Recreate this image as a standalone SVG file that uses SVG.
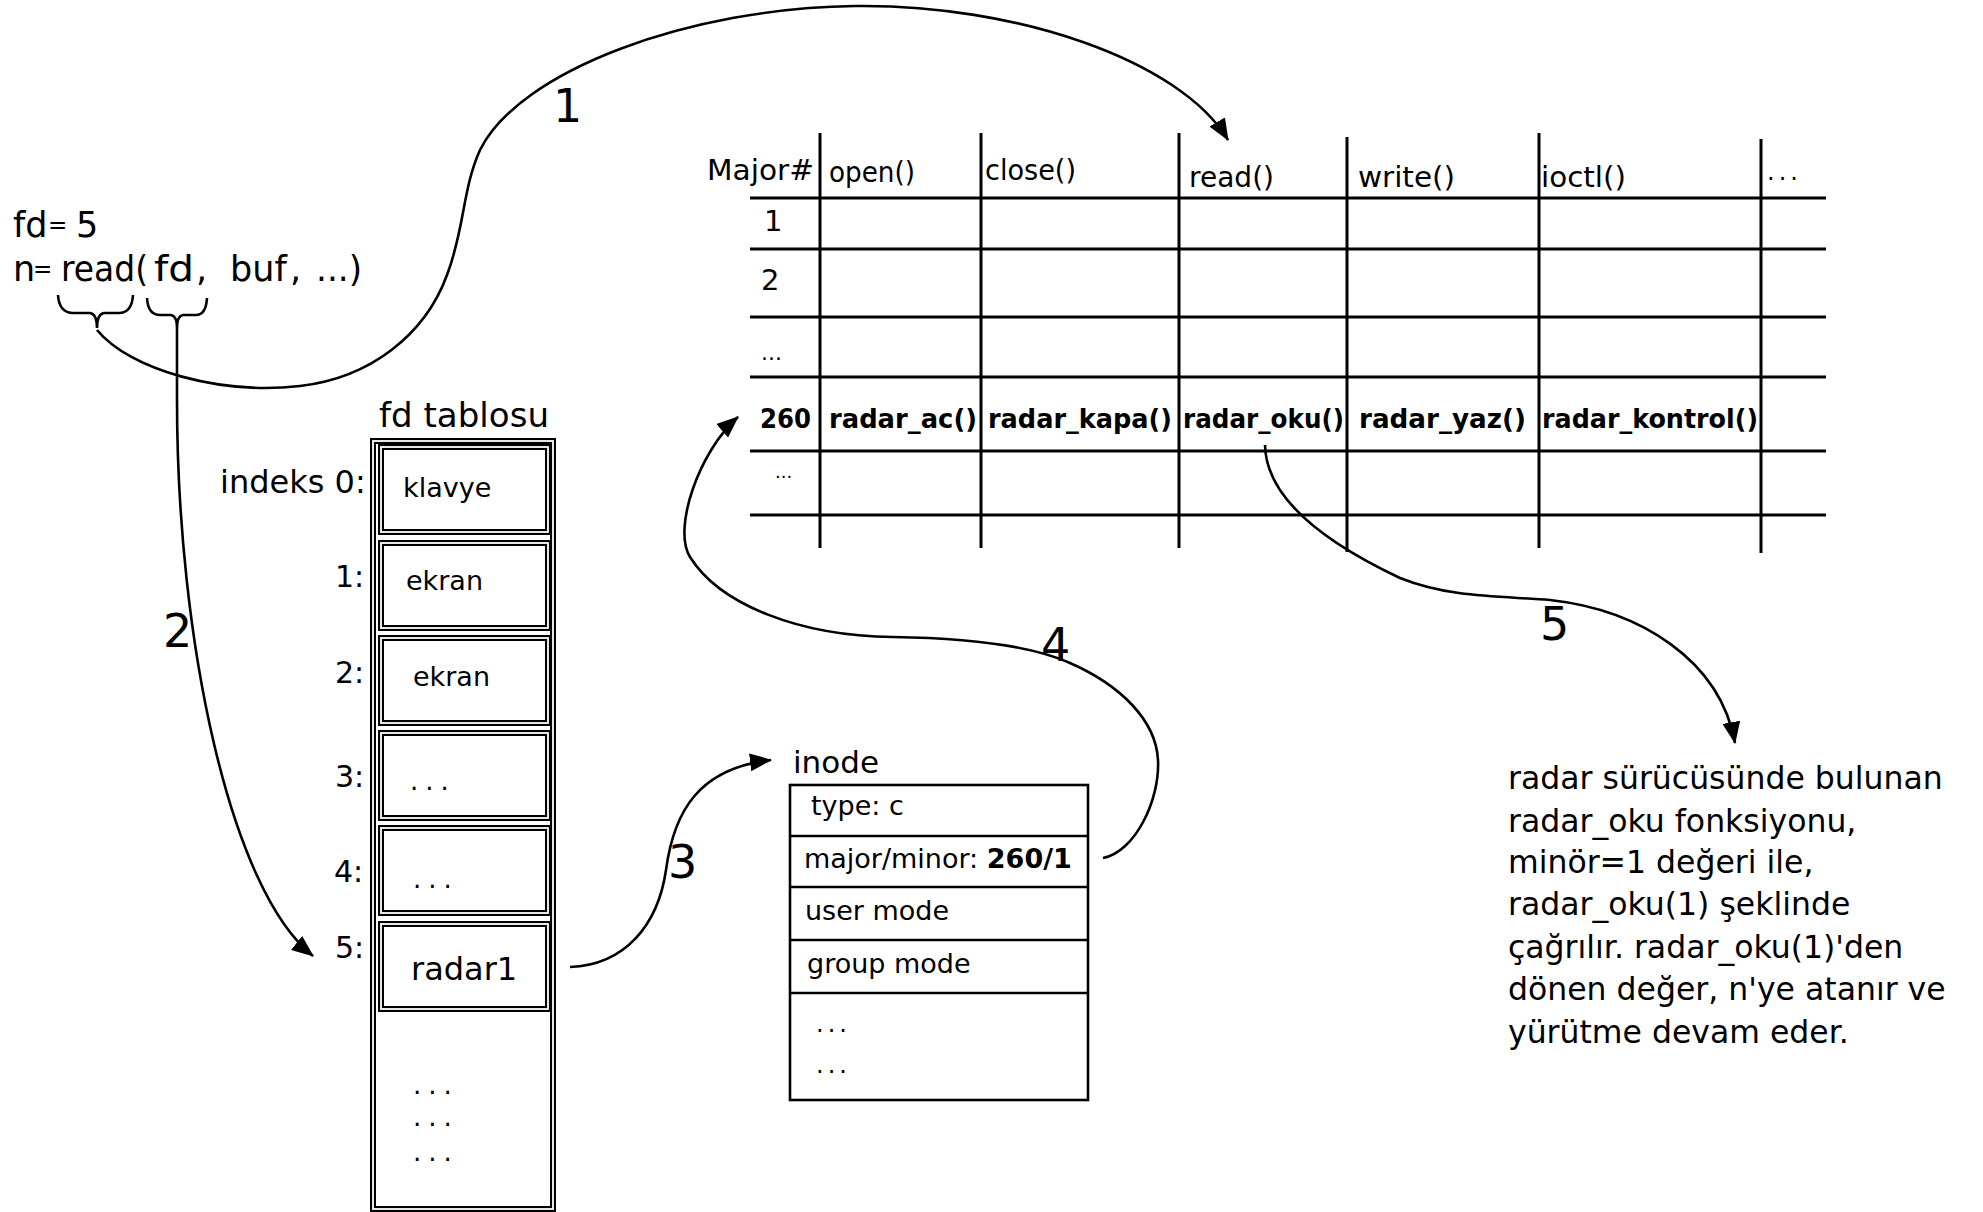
<svg xmlns="http://www.w3.org/2000/svg" width="1983" height="1212" viewBox="0 0 1983 1212">
<style>
text{font-family:"DejaVu Sans","Liberation Sans",sans-serif;fill:#000}
.b{font-weight:bold}
.hd{font-size:29px}
.rw{font-size:27px;font-weight:bold}
.grid{stroke:#000;stroke-width:3;fill:none}
.dbl{fill:none;stroke:#000;stroke-width:6}
.dblw{fill:none;stroke:#fff;stroke-width:1.8}
.box{fill:none;stroke:#000;stroke-width:2.6}
.conn{fill:none;stroke:#000;stroke-width:2.6;marker-end:url(#ah)}
.brace{fill:none;stroke:#000;stroke-width:2.6}
.lbl{font-size:46px}
.it{font-size:27px}
.par{font-size:31.5px}
.code{font-size:35px}
.eq{font-size:23px}
</style>
<defs>
<marker id="ah" markerUnits="userSpaceOnUse" markerWidth="22" markerHeight="18" viewBox="0 0 22 18" refX="21" refY="9" orient="auto">
<path d="M0,0 L22,9 L0,18 z" fill="#000"/>
</marker>
</defs>
<rect width="1983" height="1212" fill="#fff"/>

<g id="code">
<text class="code" y="237"><tspan x="13">fd</tspan><tspan class="eq" x="48" y="233">=</tspan><tspan x="76" y="237">5</tspan></text>
<text class="code" y="281"><tspan x="13">n</tspan><tspan class="eq" x="33" y="277">=</tspan><tspan x="61" y="281" textLength="87" lengthAdjust="spacingAndGlyphs">read(</tspan><tspan x="154" textLength="40" lengthAdjust="spacingAndGlyphs">fd</tspan><tspan x="196">,</tspan><tspan x="230">buf</tspan><tspan x="290">,</tspan><tspan x="316" textLength="46" lengthAdjust="spacingAndGlyphs">...)</tspan></text>
<path class="brace" d="M58,295 Q59,312 72,313 L90,313 Q97,314 97,328 Q97,314 104,313 L120,313 Q132,312 133,295"/>
<path class="brace" d="M147,298 Q148,315 160,315 L171,315 Q177,316 177,328 Q177,316 183,315 L196,315 Q206,315 207,298"/>
</g>

<g id="major-table">
<g class="grid">
<line x1="820" y1="133" x2="820" y2="548"/>
<line x1="981" y1="133" x2="981" y2="548"/>
<line x1="1179" y1="133" x2="1179" y2="548"/>
<line x1="1347" y1="137" x2="1347" y2="552"/>
<line x1="1539" y1="133" x2="1539" y2="548"/>
<line x1="1761" y1="139" x2="1761" y2="553"/>
<line x1="750" y1="198" x2="1826" y2="198"/>
<line x1="750" y1="249" x2="1826" y2="249"/>
<line x1="750" y1="317" x2="1826" y2="317"/>
<line x1="750" y1="377" x2="1826" y2="377"/>
<line x1="750" y1="451" x2="1826" y2="451"/>
<line x1="750" y1="515" x2="1826" y2="515"/>
</g>
<text class="hd" x="707" y="180" textLength="107" lengthAdjust="spacingAndGlyphs">Major#</text>
<text class="hd" x="829" y="182" textLength="86" lengthAdjust="spacingAndGlyphs">open()</text>
<text class="hd" x="985" y="180" textLength="91" lengthAdjust="spacingAndGlyphs">close()</text>
<text class="hd" x="1189" y="187" textLength="85" lengthAdjust="spacingAndGlyphs">read()</text>
<text class="hd" x="1358" y="187" textLength="97" lengthAdjust="spacingAndGlyphs">write()</text>
<text class="hd" x="1541" y="187" textLength="85" lengthAdjust="spacingAndGlyphs">ioctl()</text>
<text x="1767" y="180" font-size="24" letter-spacing="4">...</text>
<text class="hd" x="764" y="231">1</text>
<text class="hd" x="761" y="290">2</text>
<text x="761" y="360" font-size="22">...</text>
<text class="rw" x="760" y="428" textLength="51" lengthAdjust="spacingAndGlyphs">260</text>
<text x="775" y="478" font-size="18">...</text>
<text class="rw" x="829" y="428" textLength="148" lengthAdjust="spacingAndGlyphs">radar_ac()</text>
<text class="rw" x="988" y="428" textLength="184" lengthAdjust="spacingAndGlyphs">radar_kapa()</text>
<text class="rw" x="1183" y="428" textLength="161" lengthAdjust="spacingAndGlyphs">radar_oku()</text>
<text class="rw" x="1359" y="428" textLength="167" lengthAdjust="spacingAndGlyphs">radar_yaz()</text>
<text class="rw" x="1542" y="428" textLength="216" lengthAdjust="spacingAndGlyphs">radar_kontrol()</text>
</g>

<g id="fd-table">
<text x="379" y="427" font-size="33" textLength="170" lengthAdjust="spacingAndGlyphs">fd tablosu</text>
<rect class="dbl" x="373" y="441" width="180" height="768"/>
<rect class="dblw" x="373" y="441" width="180" height="768"/>
<g>
<rect class="dbl" x="381" y="447" width="167" height="85"/><rect class="dblw" x="381" y="447" width="167" height="85"/>
<rect class="dbl" x="381" y="543" width="167" height="85"/><rect class="dblw" x="381" y="543" width="167" height="85"/>
<rect class="dbl" x="381" y="638" width="167" height="85"/><rect class="dblw" x="381" y="638" width="167" height="85"/>
<rect class="dbl" x="381" y="733" width="167" height="85"/><rect class="dblw" x="381" y="733" width="167" height="85"/>
<rect class="dbl" x="381" y="828" width="167" height="85"/><rect class="dblw" x="381" y="828" width="167" height="85"/>
<rect class="dbl" x="381" y="924" width="167" height="85"/><rect class="dblw" x="381" y="924" width="167" height="85"/>
</g>
<text x="220" y="493" font-size="32">indeks 0:</text>
<text x="335" y="587" font-size="30">1:</text>
<text x="335" y="683" font-size="30">2:</text>
<text x="335" y="787" font-size="30">3:</text>
<text x="334" y="882" font-size="30">4:</text>
<text x="335" y="958" font-size="30">5:</text>
<text x="403" y="497" font-size="27">klavye</text>
<text x="406" y="590" font-size="27">ekran</text>
<text x="413" y="686" font-size="27">ekran</text>
<text x="410" y="790" font-size="26" letter-spacing="7">...</text>
<text x="413" y="888" font-size="26" letter-spacing="7">...</text>
<text x="411" y="980" font-size="32">radar1</text>
<text x="413" y="1094" font-size="26" letter-spacing="7">...</text>
<text x="413" y="1126" font-size="26" letter-spacing="7">...</text>
<text x="413" y="1161" font-size="26" letter-spacing="7">...</text>
</g>

<g id="inode">
<text x="793" y="773" font-size="31">inode</text>
<rect class="box" x="790" y="785" width="298" height="315"/>
<line class="box" x1="790" y1="836" x2="1088" y2="836"/>
<line class="box" x1="790" y1="887" x2="1088" y2="887"/>
<line class="box" x1="790" y1="940" x2="1088" y2="940"/>
<line class="box" x1="790" y1="993" x2="1088" y2="993"/>
<text class="it" x="811" y="815">type: c</text>
<text class="it" x="804" y="868">major/minor: <tspan class="b">260/1</tspan></text>
<text class="it" x="805" y="920">user mode</text>
<text class="it" x="807" y="973">group mode</text>
<text x="816" y="1032" font-size="24" letter-spacing="4">...</text>
<text x="816" y="1073" font-size="24" letter-spacing="4">...</text>
</g>

<g id="explanation">
<text class="par" x="1508" y="789">radar sürücüsünde bulunan</text>
<text class="par" x="1508" y="832">radar_oku fonksiyonu,</text>
<text class="par" x="1508" y="873">minör=1 değeri ile,</text>
<text class="par" x="1508" y="915">radar_oku(1) şeklinde</text>
<text class="par" x="1508" y="958">çağrılır. radar_oku(1)'den</text>
<text class="par" x="1508" y="1000">dönen değer, n'ye atanır ve</text>
<text class="par" x="1508" y="1043">yürütme devam eder.</text>
</g>

<g id="connectors">
<path class="conn" d="M97,330 C130,370 220,395 300,386 C370,378 425,335 447,275 C465,228 462,190 480,150 C520,70 690,8 855,6 C1015,4 1180,60 1228,140"/>
<path class="conn" d="M177,328 L177,400 C177,640 230,890 313,956"/>
<path class="conn" d="M570,967 C625,965 658,925 666,870 C674,810 700,768 771,760"/>
<path class="conn" d="M1103,858 C1135,852 1160,800 1158,760 C1156,720 1120,685 1070,663 C1030,645 960,638 893,637 C800,636 720,605 690,557 C672,528 700,450 738,417"/>
<path class="conn" d="M1265,445 C1266,500 1330,545 1400,578 C1450,598 1500,596 1550,600 C1640,610 1720,660 1735,743"/>
<text class="lbl" x="553" y="122">1</text>
<text class="lbl" x="163" y="647">2</text>
<text class="lbl" x="668" y="878">3</text>
<text class="lbl" x="1041" y="661">4</text>
<text class="lbl" x="1540" y="640">5</text>
</g>
</svg>
